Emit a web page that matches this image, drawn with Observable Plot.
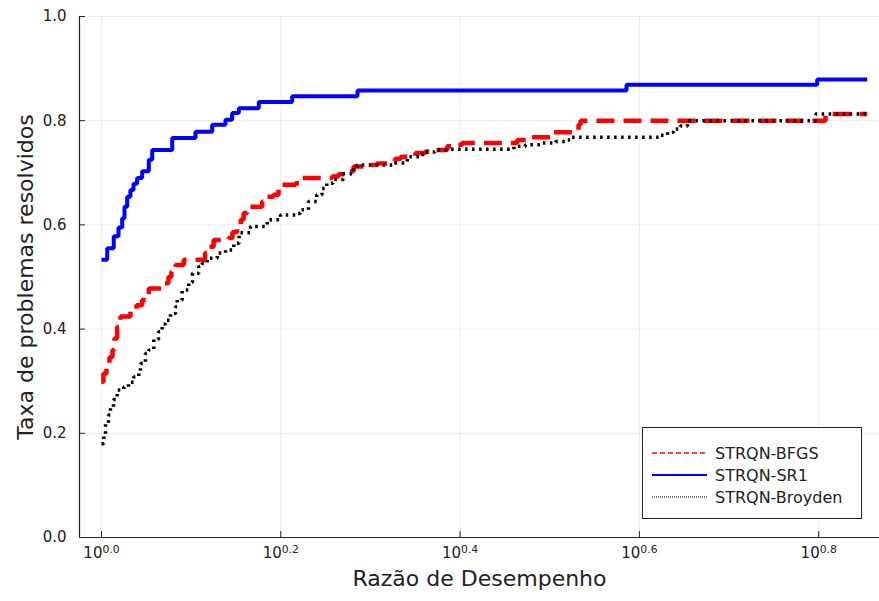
<!DOCTYPE html>
<html>
<head>
<meta charset="utf-8">
<script src="https://cdn.jsdelivr.net/npm/d3@7"></script>
<script src="https://cdn.jsdelivr.net/npm/@observablehq/plot@0.6"></script>
<style>
  html, body { margin: 0; padding: 0; background: #fff; }
  #wrap { position: relative; width: 879px; height: 601px; font-family: "DejaVu Sans", sans-serif; }
  #legend { position: absolute; left: 642px; top: 427px; width: 220px; height: 92px; border: 1px solid #222; background: #fff; box-sizing: border-box; }
  .row { position: absolute; left: 0; height: 22px; display: flex; align-items: center; }
  .row svg { margin-left: 9px; }
  .row span { margin-left: 8px; font-size: 16px; color: #222; }
</style>
</head>
<body>
<div id="wrap"></div>
<script>
// ---- data (x given as log10 of the performance ratio) ----
const seriesNames = ["STRQN-BFGS", "STRQN-SR1", "STRQN-Broyden"];

const sr1Exp = [0, 0.0064, 0.0137, 0.019, 0.0231, 0.0257, 0.0287, 0.0323, 0.0357, 0.0398, 0.0454, 0.0528, 0.0566, 0.0789, 0.1049, 0.1235, 0.1383, 0.1458, 0.1532, 0.1755, 0.2127, 0.2856, 0.5856, 0.7983, 0.8541];
const sr1Val = [0.533, 0.555, 0.578, 0.595, 0.613, 0.635, 0.654, 0.667, 0.679, 0.690, 0.703, 0.725, 0.744, 0.767, 0.779, 0.792, 0.802, 0.815, 0.824, 0.836, 0.847, 0.858, 0.869, 0.879, 0.879];

const bfgsExp = [0, 0.0022, 0.0056, 0.0089, 0.0123, 0.0145, 0.0175, 0.0212, 0.0323, 0.039, 0.0454, 0.0528, 0.0677, 0.0695, 0.0747, 0.078, 0.0826, 0.0918, 0.1155, 0.1199, 0.1251, 0.1417, 0.1461, 0.1513, 0.1554, 0.1586, 0.1627, 0.1793, 0.1829, 0.1919, 0.1975, 0.2164, 0.2238, 0.2573, 0.2643, 0.2739, 0.2812, 0.2945, 0.3073, 0.3201, 0.3274, 0.3339, 0.3502, 0.3614, 0.3703, 0.3856, 0.3947, 0.4021, 0.4637, 0.4785, 0.504, 0.5321, 0.5343, 0.8076, 0.8541];
const bfgsVal = [0.299, 0.315, 0.331, 0.346, 0.36, 0.382, 0.404, 0.424, 0.437, 0.446, 0.456, 0.478, 0.481, 0.488, 0.50, 0.51, 0.523, 0.533, 0.546, 0.558, 0.571, 0.575, 0.586, 0.597, 0.61, 0.623, 0.635, 0.645, 0.654, 0.658, 0.677, 0.680, 0.690, 0.693, 0.697, 0.703, 0.712, 0.715, 0.718, 0.722, 0.727, 0.731, 0.738, 0.741, 0.744, 0.751, 0.754, 0.757, 0.763, 0.768, 0.778, 0.792, 0.80, 0.813, 0.813];

const broydenExp = [0, 0.0026, 0.0045, 0.0078, 0.01, 0.0134, 0.0175, 0.0249, 0.0301, 0.036, 0.0416, 0.0435, 0.049, 0.0528, 0.0584, 0.0636, 0.0677, 0.0714, 0.077, 0.0826, 0.0845, 0.09, 0.0974, 0.1015, 0.1085, 0.1123, 0.1179, 0.1292, 0.1384, 0.1476, 0.1535, 0.1662, 0.1849, 0.1997, 0.2182, 0.2219, 0.2309, 0.2401, 0.246, 0.2513, 0.2584, 0.2699, 0.2811, 0.2852, 0.3256, 0.3411, 0.3564, 0.3602, 0.3719, 0.3859, 0.4601, 0.4729, 0.4897, 0.5064, 0.5195, 0.5232, 0.6236, 0.6314, 0.638, 0.6459, 0.6536, 0.7965, 0.8541];
const broydenVal = [0.18, 0.199, 0.219, 0.235, 0.25, 0.265, 0.283, 0.289, 0.298, 0.308, 0.318, 0.334, 0.353, 0.36, 0.38, 0.395, 0.41, 0.417, 0.43, 0.443, 0.456, 0.475, 0.49, 0.507, 0.52, 0.526, 0.536, 0.546, 0.552, 0.565, 0.585, 0.597, 0.610, 0.619, 0.622, 0.629, 0.645, 0.658, 0.67, 0.680, 0.687, 0.698, 0.709, 0.715, 0.719, 0.731, 0.735, 0.74, 0.744, 0.745, 0.751, 0.754, 0.757, 0.760, 0.763, 0.768, 0.772, 0.778, 0.784, 0.79, 0.80, 0.813, 0.813];

const xTickExp = [0, 0.2, 0.4, 0.6, 0.8];
const xTickLabels = ["0.0", "0.2", "0.4", "0.6", "0.8"];
const yTicks = [0, 0.2, 0.4, 0.6, 0.8, 1.0];
const xDomainExp = [-0.0245, 0.8678];

const xLabel = "Razão de Desempenho";
const yLabel = "Taxa de problemas resolvidos";

// ---- build tables ----
const toRows = (exps, vals) => exps.map((e, i) => ({x: Math.pow(10, e), y: vals[i]}));
const bfgs = toRows(bfgsExp, bfgsVal);
const sr1 = toRows(sr1Exp, sr1Val);
const broyden = toRows(broydenExp, broydenVal);
const xTicks = xTickExp.map(e => Math.pow(10, e));
const xMin = Math.pow(10, xDomainExp[0]);

function xTickText(d) {
  let best = 0;
  xTicks.forEach((t, i) => { if (Math.abs(t - d) < Math.abs(xTicks[best] - d)) best = i; });
  return "10^" + xTickLabels[best];
}

const W = 879, H = 601, mL = 79, mR = 0, mT = 16, mB = 64;
const frameW = W - mL - mR, frameH = H - mT - mB;

const chart = Plot.plot({
  width: W, height: H,
  marginLeft: mL, marginRight: mR, marginTop: mT, marginBottom: mB,
  style: {fontFamily: "DejaVu Sans", fontSize: "15px", background: "white", color: "#222"},
  x: {type: "log", domain: xDomainExp.map(e => Math.pow(10, e))},
  y: {domain: [0, 1]},
  marks: [
    Plot.gridX(xTicks, {stroke: "#000", strokeOpacity: 0.08, strokeWidth: 1}),
    Plot.gridY(yTicks, {stroke: "#000", strokeOpacity: 0.08, strokeWidth: 1}),
    Plot.line(bfgs, {x: "x", y: "y", curve: "step-after", stroke: "#ff0000", strokeWidth: 4.5, strokeDasharray: "18,9", strokeLinecap: "butt", strokeLinejoin: "miter"}),
    Plot.line(sr1, {x: "x", y: "y", curve: "step-after", stroke: "#0000ff", strokeWidth: 4, strokeLinecap: "butt", strokeLinejoin: "miter"}),
    Plot.line(broyden, {x: "x", y: "y", curve: "step-after", stroke: "#000", strokeWidth: 3.5, strokeDasharray: "2.5,4.5", strokeLinecap: "butt", strokeLinejoin: "miter"}),
    Plot.ruleY([0], {stroke: "#222", strokeWidth: 1.2}),
    Plot.ruleX([xMin], {stroke: "#222", strokeWidth: 1.2}),
    Plot.ruleX(xTicks, {stroke: "#222", insetTop: frameH - 6}),
    Plot.ruleY(yTicks, {stroke: "#222", insetRight: frameW - 6}),
    Plot.axisX(xTicks, {tickSize: 0, tickPadding: 10, label: null, tickFormat: xTickText, fontSize: 15}),
    Plot.axisY(yTicks, {tickSize: 0, tickPadding: 13, label: null, tickFormat: d => d.toFixed(1), fontSize: 15}),
    Plot.text([xLabel], {frameAnchor: "bottom", dy: 48, fontSize: 22, fill: "#222"}),
    Plot.text([yLabel], {frameAnchor: "left", dx: -54, rotate: -90, textAnchor: "middle", fontSize: 22, fill: "#222"})
  ]
});

// superscripted tick labels 10^e
d3.select(chart).selectAll('g[aria-label="x-axis tick label"] text').each(function () {
  const t = d3.select(this);
  const s = t.text();
  const parts = s.split("^");
  if (parts.length !== 2) return;
  t.text(null);
  t.append("tspan").text(parts[0]);
  t.append("tspan").attr("dy", "-0.45em").attr("font-size", "0.72em").text(parts[1]);
});

const wrap = document.getElementById("wrap");
wrap.appendChild(chart);

// legend
const legend = document.createElement("div");
legend.id = "legend";
const legendStyles = [
  {stroke: "#ff0000", width: 1.6, dash: "5,3"},
  {stroke: "#0000ff", width: 2, dash: null},
  {stroke: "#000", width: 1.2, dash: "1,1"}
];
seriesNames.forEach((name, i) => {
  const row = document.createElement("div");
  row.className = "row";
  row.style.top = (14 + i * 22) + "px";
  const st = legendStyles[i];
  row.innerHTML = `<svg width="55" height="8"><line x1="0" y1="4" x2="55" y2="4" stroke="${st.stroke}" stroke-width="${st.width}" ${st.dash ? `stroke-dasharray="${st.dash}"` : ""}/></svg><span>${name}</span>`;
  legend.appendChild(row);
});
wrap.appendChild(legend);
</script>
</body>
</html>
